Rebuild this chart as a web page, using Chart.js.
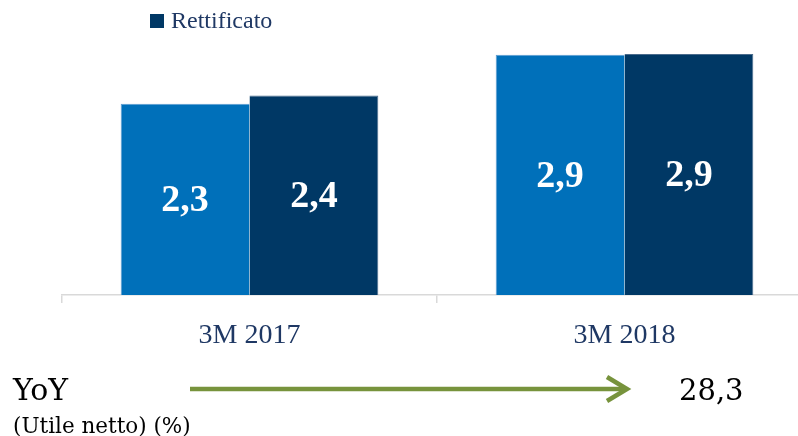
<!DOCTYPE html>
<html>
<head>
    <meta charset="utf-8" />
    <title>Utile netto</title>
    <style>
        html, body { margin: 0; padding: 0; background: #fff; overflow: hidden; width: 798px; height: 436px; }
        #myChart { position: absolute; left: 0; top: 0; }
    </style>
</head>
<body>
<canvas id="myChart" width="812" height="436"></canvas>
<script src="https://cdn.jsdelivr.net/npm/chart.js@4/dist/chart.umd.min.js"></script>
<script>
    // dati
    var categorie = ['3M 2017', '3M 2018'];
    var riportato = [2.3, 2.89];
    var rettificato = [2.4, 2.9];
    var yoyTitolo = 'YoY';
    var yoySotto = '(Utile netto) (%)';
    var yoyValore = '28,3';

    // etichette bianche al centro delle barre
    var etichette = {
        id: 'etichette',
        afterDatasetsDraw: function (chart) {
            var ctx = chart.ctx;
            ctx.save();
            ctx.fillStyle = '#fff';
            ctx.font = 'bold 38px "Liberation Serif", serif';
            ctx.textAlign = 'center';
            ctx.textBaseline = 'middle';
            chart.data.datasets.forEach(function (ds, i) {
                chart.getDatasetMeta(i).data.forEach(function (bar, j) {
                    var testo = ds.data[j].toFixed(1).replace('.', ',');
                    ctx.fillText(testo, bar.x, (bar.y + bar.base) / 2 + 2);
                });
            });
            ctx.restore();
        }
    };

    // legenda (solo "Rettificato") e riga YoY sotto il grafico
    var extra = {
        id: 'extra',
        afterDraw: function (chart) {
            var ctx = chart.ctx;
            var ds = chart.data.datasets[1];
            ctx.save();
            ctx.fillStyle = ds.backgroundColor;
            ctx.fillRect(150, 14, 14, 14);
            ctx.fillStyle = '#1F3864';
            ctx.font = '24px "Liberation Serif", serif';
            ctx.textBaseline = 'alphabetic';
            ctx.fillText(ds.label, 171, 28);

            ctx.fillStyle = '#000';
            ctx.font = '30px "DejaVu Serif", serif';
            ctx.fillText(yoyTitolo, 13, 400);
            ctx.font = '21.5px "DejaVu Serif", serif';
            ctx.fillText(yoySotto, 13, 433);
            ctx.font = '29px "DejaVu Serif", serif';
            ctx.fillText(yoyValore, 679, 400);

            ctx.strokeStyle = '#77933C';
            ctx.lineWidth = 4.5;
            ctx.beginPath();
            ctx.moveTo(190, 389);
            ctx.lineTo(626, 389);
            ctx.stroke();
            ctx.beginPath();
            ctx.moveTo(607, 377);
            ctx.lineTo(627, 389);
            ctx.lineTo(607, 401);
            ctx.stroke();
            ctx.restore();
        }
    };

    var context = document.getElementById('myChart').getContext('2d');
    var chart = new Chart(context, {
        type: 'bar',
        data: {
            labels: categorie,
            datasets: [
                {
                    label: 'Riportato',
                    data: riportato,
                    backgroundColor: '#0070BA',
                    borderColor: '#5C9BCF',
                    borderWidth: { top: 1, left: 1, right: 0, bottom: 0 },
                    barPercentage: 1,
                    categoryPercentage: 0.687
                },
                {
                    label: 'Rettificato',
                    data: rettificato,
                    backgroundColor: '#003865',
                    borderColor: '#4A6B8C',
                    borderWidth: { top: 1, left: 0, right: 1, bottom: 0 },
                    barPercentage: 1,
                    categoryPercentage: 0.687
                }
            ]
        },
        options: {
            responsive: false,
            animation: false,
            layout: { padding: { left: 62, right: 0, top: 4, bottom: 0 } },
            plugins: {
                legend: { display: false },
                tooltip: { enabled: false }
            },
            scales: {
                y: { display: false, min: 0, max: 3.5 },
                x: {
                    afterFit: function (scale) { scale.height = 141; },
                    border: { color: '#D9D9D9', width: 1.5 },
                    grid: { drawOnChartArea: false, drawTicks: true, tickLength: 8, color: '#D9D9D9', lineWidth: 1.5 },
                    ticks: {
                        color: '#1F3864',
                        padding: 16,
                        font: { family: '"Liberation Serif", serif', size: 28 }
                    }
                }
            }
        },
        plugins: [etichette, extra]
    });
</script>
</body>
</html>
